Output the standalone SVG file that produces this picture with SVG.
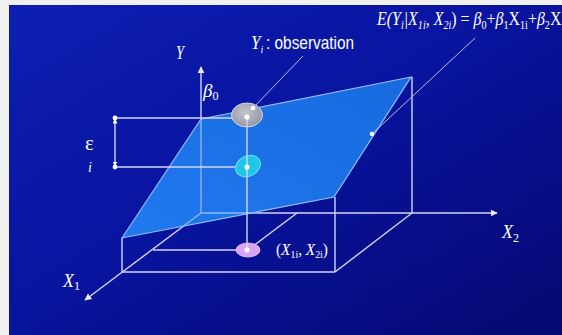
<svg xmlns="http://www.w3.org/2000/svg" width="562" height="335" viewBox="0 0 562 335">
  <defs>
    <linearGradient id="bg" x1="0" y1="0" x2="1" y2="1">
      <stop offset="0" stop-color="#0c1eb2"/>
      <stop offset="0.45" stop-color="#0914a0"/>
      <stop offset="1" stop-color="#040870"/>
    </linearGradient>
    <linearGradient id="planeFill" x1="0" y1="1" x2="1" y2="0">
      <stop offset="0" stop-color="#2178ee"/>
      <stop offset="1" stop-color="#186ae0"/>
    </linearGradient>
    <radialGradient id="grayFill" cx="0.45" cy="0.4" r="0.6">
      <stop offset="0" stop-color="#c4c7d0"/>
      <stop offset="1" stop-color="#9397a6"/>
    </radialGradient>
    <clipPath id="planeClip">
      <polygon points="122,238 201,119 411,77 334,197"/>
    </clipPath>
    <marker id="arr" viewBox="0 0 10 10" refX="9" refY="5" markerWidth="7" markerHeight="7" markerUnits="userSpaceOnUse" orient="auto">
      <path d="M0,0 L10,5 L0,10 Z" fill="#e8ecff"/>
    </marker>
    <marker id="tick" viewBox="0 0 10 10" refX="9" refY="5" markerWidth="5" markerHeight="5" markerUnits="userSpaceOnUse" orient="auto">
      <path d="M0,0 L10,5 L0,10 Z" fill="#ffffff"/>
    </marker>
  </defs>
  <style>
    .ln { stroke: #d2d6f2; stroke-width: 1.4; fill: none; }
    .hid { stroke: #8dbcf6; stroke-width: 1.3; fill: none; }
    .lead { stroke: #b4bcf0; stroke-width: 1; fill: none; }
    .dot { fill: #ffffff; }
    .ser { font-family: "Liberation Serif", "Times New Roman", serif; font-style: italic; fill: #ffffff; }
    .up { font-style: normal; }
    .san { font-family: "Liberation Sans", Arial, sans-serif; fill: #ffffff; }
  </style>

  <rect x="0" y="0" width="562" height="335" fill="#f0f0f0"/>
  <rect x="9" y="5" width="553" height="330" fill="url(#bg)"/>

  <g id="connectors">
    <line class="ln" x1="201" y1="213" x2="497" y2="213" marker-end="url(#arr)"/>
    <line class="ln" x1="201" y1="213" x2="85" y2="300" marker-end="url(#arr)"/>
    <line class="ln" x1="201" y1="119" x2="201" y2="213"/>
    <line class="ln" x1="412" y1="77" x2="412" y2="213"/>
    <line class="ln" x1="412" y1="213" x2="335" y2="272"/>
    <line class="ln" x1="335" y1="197" x2="335" y2="272"/>
    <line class="ln" x1="122" y1="272" x2="335" y2="272"/>
    <line class="ln" x1="122" y1="238" x2="122" y2="272"/>
    <line class="ln" x1="153" y1="250" x2="247" y2="250"/>
    <line class="ln" x1="248" y1="250" x2="297" y2="213"/>
  </g>

  <g id="plane">
    <polygon points="122,238 201,119 411,77 334,197" fill="url(#planeFill)" stroke="#8fc0ff" stroke-width="1.2"/>
    <g clip-path="url(#planeClip)">
      <line class="hid" x1="201" y1="119" x2="201" y2="213"/>
      <line class="hid" x1="201" y1="213" x2="412" y2="213"/>
      <line class="hid" x1="201" y1="213" x2="150" y2="251"/>
    </g>
  </g>

  <g id="connectors-front">
    <line class="ln" x1="201" y1="119" x2="201" y2="67" marker-end="url(#arr)"/>
    <line class="ln" x1="115" y1="118" x2="247" y2="118"/>
    <line class="ln" x1="115" y1="167" x2="247" y2="167"/>
    <line class="ln" x1="115" y1="142" x2="115" y2="119" marker-end="url(#tick)"/>
    <line class="ln" x1="115" y1="142" x2="115" y2="166" marker-end="url(#tick)"/>
    <line class="lead" x1="303" y1="56" x2="253" y2="108"/>
    <line class="lead" x1="475" y1="38" x2="372" y2="134"/>
  </g>

  <g id="observation">
    <ellipse cx="247" cy="115" rx="15.5" ry="12" fill="url(#grayFill)" stroke="#d4d8e2" stroke-width="1"/>
  </g>
  <g id="fitted">
    <ellipse cx="248" cy="166" rx="13" ry="10" transform="rotate(-28 248 166)" fill="#1fc6ea" stroke="#70e2f8" stroke-width="1"/>
  </g>
  <g id="base-point">
    <ellipse cx="248" cy="250" rx="12" ry="7" fill="#d9a4f2" stroke="#ecc8fb" stroke-width="0.8"/>
  </g>

  <g id="vertical">
    <line class="ln" x1="247" y1="117" x2="247" y2="250" stroke="#eef0ff"/>
  </g>

  <g id="dots">
    <circle class="dot" cx="247" cy="117" r="2.6"/>
    <circle class="dot" cx="253" cy="108" r="2.3"/>
    <circle class="dot" cx="247" cy="167" r="2.6"/>
    <circle class="dot" cx="247" cy="250" r="2.6"/>
    <circle class="dot" cx="115" cy="118" r="2.4"/>
    <circle class="dot" cx="115" cy="167" r="2.4"/>
    <circle class="dot" cx="372" cy="134" r="2.3"/>
  </g>

  <g id="labels">
    <text class="ser" transform="translate(377,25) scale(0.84,1)" font-size="19">E(Y<tspan font-size="12" dy="4">i</tspan><tspan dy="-4">|X</tspan><tspan font-size="12" dy="4">1i</tspan><tspan dy="-4">, X</tspan><tspan font-size="12" dy="4">2i</tspan><tspan dy="-4" class="up">) = </tspan>β<tspan font-size="12" dy="4" class="up">0</tspan><tspan dy="-4" class="up">+</tspan>β<tspan font-size="12" dy="4" class="up">1</tspan><tspan dy="-4" class="up">X</tspan><tspan font-size="12" dy="4" class="up">1i</tspan><tspan dy="-4" class="up">+</tspan>β<tspan font-size="12" dy="4" class="up">2</tspan><tspan dy="-4" class="up">X</tspan></text>

    <text class="ser" transform="translate(251,49) scale(0.9,1)" font-size="19">Y<tspan font-size="11" dy="4">i</tspan></text>
    <text class="san" transform="translate(266,49) scale(0.855,1)" font-size="18">: observation</text>

    <text class="ser" transform="translate(176,59) scale(0.8,1)" font-size="18">Y</text>
    <text class="ser" x="203" y="97" font-size="19">β<tspan font-size="12" dy="3" class="up">0</tspan></text>

    <text class="ser up" x="85" y="150" font-size="21">ε</text>
    <text class="ser" x="88" y="172" font-size="14">i</text>

    <text class="ser" x="63" y="287" font-size="18">X<tspan font-size="12" dy="3" class="up">1</tspan></text>
    <text class="ser" x="502" y="238" font-size="18">X<tspan font-size="12" dy="4" class="up">2</tspan></text>

    <text class="ser" transform="translate(276,255) scale(0.9,1)" font-size="17"><tspan class="up">(</tspan>X<tspan font-size="11" dy="3" class="up">1i</tspan><tspan dy="-3" class="up">, </tspan>X<tspan font-size="11" dy="3" class="up">2i</tspan><tspan dy="-3" class="up">)</tspan></text>
  </g>
</svg>
